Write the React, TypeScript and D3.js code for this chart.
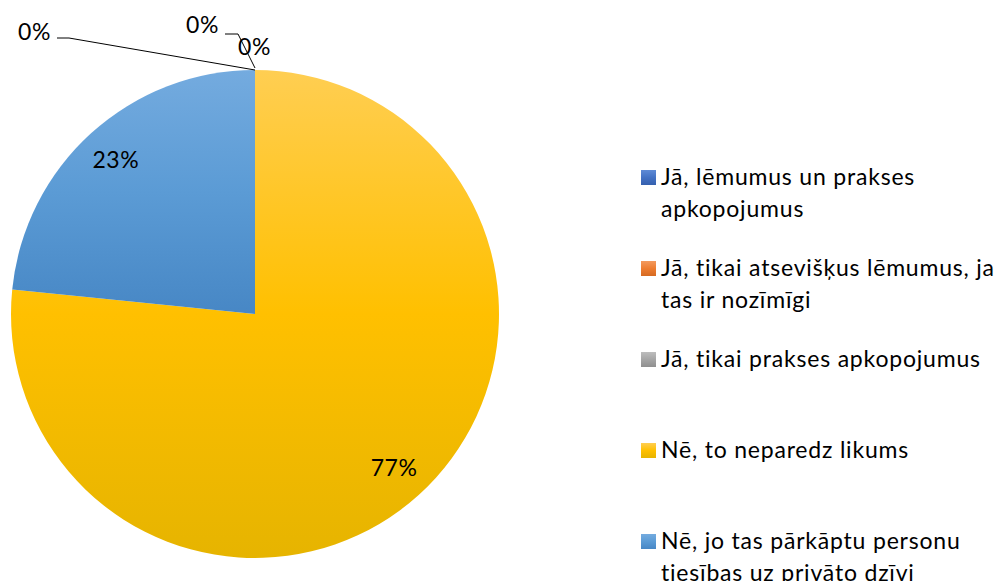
import React from 'react';
import * as d3 from 'd3';

const width = 1000;
const height = 581;

const categories = [
  'Jā, lēmumus un prakses apkopojumus',
  'Jā, tikai atsevišķus lēmumus, ja tas ir nozīmīgi',
  'Jā, tikai prakses apkopojumus',
  'Nē, to neparedz likums',
  'Nē, jo tas pārkāptu personu tiesības uz privāto dzīvi',
];
const legendLines = [
  ['Jā, lēmumus un prakses', 'apkopojumus'],
  ['Jā, tikai atsevišķus lēmumus, ja', 'tas ir nozīmīgi'],
  ['Jā, tikai prakses apkopojumus'],
  ['Nē, to neparedz likums'],
  ['Nē, jo tas pārkāptu personu', 'tiesības uz privāto dzīvi'],
];
const values = [0, 0, 0, 36, 11];
const percentLabels = ['0%', '0%', '0%', '77%', '23%'];

// gradient stops per series: light, base, dark
const palette = [
  ['#5f8bd6', '#4472c4', '#3560ae'],
  ['#f39a5e', '#ed7d31', '#d56a22'],
  ['#bdbdbd', '#a5a5a5', '#8f8f8f'],
  ['#ffce52', '#ffc000', '#e6b400'],
  ['#74abdf', '#5b9bd5', '#4787c5'],
];

// where Excel put the labels of the empty slices, relative to the slice point
const zeroLabelLayout = [
  { dx: -204, dy: -30, anchor: 'end', leader: [[-198, -32], [-186, -32], [0, 0]] },
  { dx: -36, dy: -37, anchor: 'end', leader: [[-30, -36], [-17, -36], [0, -2]] },
  { dx: -17, dy: -15, anchor: 'start', leader: null },
];

const font = 'Lato, Carlito, Calibri, sans-serif';

export default function App() {
  const cx = 255;
  const cy = 314;
  const r = 244;

  const pie = d3.pie<number>().sort(null).value((d) => d);
  const arcs = pie(values);
  const arc = d3.arc<d3.PieArcDatum<number>>().innerRadius(0).outerRadius(r);
  const labelArc = d3
    .arc<d3.PieArcDatum<number>>()
    .innerRadius(r * 0.85)
    .outerRadius(r * 0.85);

  let zeroIdx = 0;
  const labels = arcs.map((a, i) => {
    if (a.value > 0) {
      const [x, y] = labelArc.centroid(a);
      return (
        <text key={i} x={x} y={y} dy="0.36em" textAnchor="middle" fontSize={23} letterSpacing={0.6} fill="#000">
          {percentLabels[i]}
        </text>
      );
    }
    const lay = zeroLabelLayout[zeroIdx++];
    const px = r * Math.sin(a.startAngle);
    const py = -r * Math.cos(a.startAngle);
    const line = d3.line();
    return (
      <g key={i}>
        {lay.leader && (
          <path
            d={line(lay.leader.map(([lx, ly]) => [px + lx, py + ly]) as [number, number][]) || ''}
            fill="none"
            stroke="#000"
            strokeWidth={1}
          />
        )}
        <text x={px + lay.dx} y={py + lay.dy} textAnchor={lay.anchor} fontSize={23} letterSpacing={0.6} fill="#000">
          {percentLabels[i]}
        </text>
      </g>
    );
  });

  const legendX = 641;
  const legendTops = d3.scalePoint<number>().domain(d3.range(categories.length)).range([170, 534]);

  return (
    <svg
      width={width}
      height={height}
      style={{ position: 'absolute', left: 0, top: 0, fontFamily: font }}
    >
      <defs>
        {palette.map((c, i) => (
          <linearGradient key={i} id={`grad${i}`} x1="0" y1="0" x2="0" y2="1">
            <stop offset="0" stopColor={c[0]} />
            <stop offset="0.5" stopColor={c[1]} />
            <stop offset="1" stopColor={c[2]} />
          </linearGradient>
        ))}
      </defs>
      <rect width={width} height={height} fill="#fff" />
      <g transform={`translate(${cx},${cy})`}>
        {arcs.map((a, i) => (
          <path key={i} d={arc(a) || ''} fill={`url(#grad${i})`} />
        ))}
        {labels}
      </g>
      <g>
        {categories.map((c, i) => {
          const top = legendTops(i) as number;
          return (
            <g key={c}>
              <rect x={legendX} y={top} width={15} height={15} fill={`url(#grad${i})`} />
              <text x={legendX + 20} y={top + 15} fontSize={23} letterSpacing={0.8} fill="#000">
                {legendLines[i].map((l, j) => (
                  <tspan key={j} x={legendX + 20} dy={j === 0 ? 0 : 32}>
                    {l}
                  </tspan>
                ))}
              </text>
            </g>
          );
        })}
      </g>
    </svg>
  );
}
